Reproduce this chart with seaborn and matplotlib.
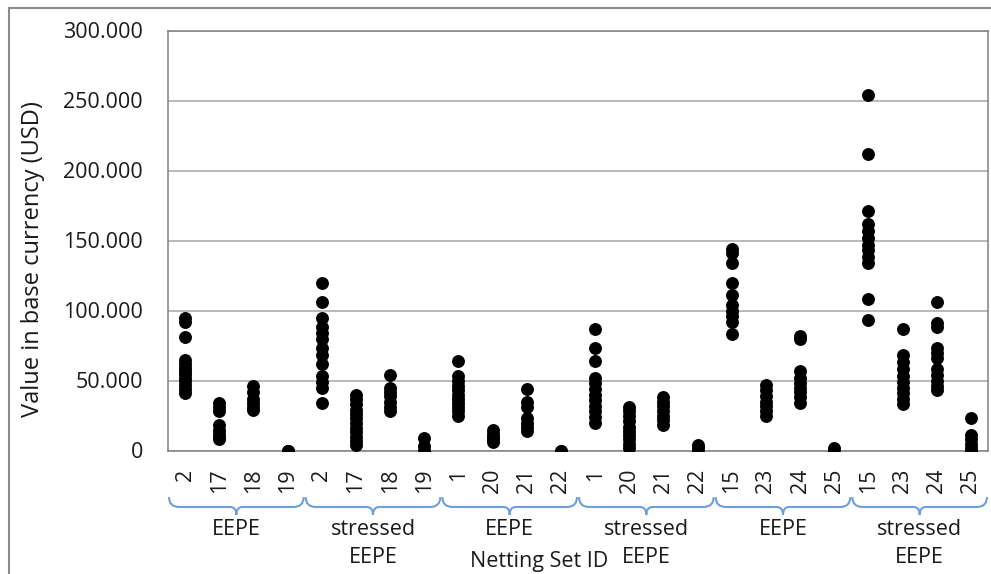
import numpy as np
import pandas as pd
import matplotlib.pyplot as plt
import matplotlib.transforms as mtransforms
import seaborn as sns
from matplotlib.path import Path
from matplotlib.patches import PathPatch, Rectangle
from matplotlib.ticker import FuncFormatter

# group captions under the brackets and netting set ids per group
group_names = ["EEPE", "stressed\nEEPE", "EEPE", "stressed\nEEPE", "EEPE", "stressed\nEEPE"]
group_ids = [
    ["2", "17", "18", "19"],
    ["2", "17", "18", "19"],
    ["1", "20", "21", "22"],
    ["1", "20", "21", "22"],
    ["15", "23", "24", "25"],
    ["15", "23", "24", "25"],
]

# values (USD) per netting set
eepe_a = [
    [95000, 92000, 81000, 65000, 62000, 59000, 57000, 55000, 52000, 50000, 47000, 44000, 41000],
    [34000, 31000, 28000, 18000, 15000, 12000, 10000, 8000],
    [46000, 42000, 37000, 34000, 31000, 29000],
    [0, 0, 0],
]
stressed_a = [
    [120000, 106000, 95000, 88000, 84000, 80000, 73000, 68000, 62000, 53000, 49000, 45000, 34000],
    [40000, 37000, 33000, 29000, 26000, 23000, 20000, 16000, 13000, 10000, 7000, 4000],
    [54000, 45000, 42000, 39000, 35000, 31000, 28000],
    [9000, 3000, 0, 0],
]
eepe_b = [
    [64000, 53000, 50000, 46000, 43000, 40000, 37000, 34000, 31000, 28000, 25000],
    [15000, 12000, 10000, 8000, 6000],
    [44000, 35000, 31000, 23000, 20000, 17000, 14000],
    [0, 0],
]
stressed_b = [
    [87000, 73000, 64000, 52000, 48000, 44000, 40000, 36000, 32000, 28000, 24000, 20000],
    [31000, 28000, 25000, 21000, 17000, 14000, 11000, 8000, 5000, 2000],
    [38000, 35000, 32000, 28000, 25000, 22000, 18000],
    [4000, 2000, 0],
]
eepe_c = [
    [144000, 141000, 134000, 120000, 111000, 104000, 100000, 96000, 92000, 83000],
    [47000, 43000, 39000, 35000, 32000, 28000, 25000],
    [82000, 80000, 57000, 52000, 48000, 45000, 42000, 38000, 34000],
    [2000, 0, 0],
]
stressed_c = [
    [254000, 212000, 171000, 162000, 157000, 152000, 147000, 143000, 138000, 134000, 108000, 93000],
    [87000, 68000, 63000, 58000, 53000, 49000, 45000, 41000, 37000, 33000],
    [106000, 91000, 88000, 73000, 70000, 66000, 58000, 54000, 50000, 46000, 43000],
    [23000, 11000, 8000, 5000, 2000, 0],
]
group_values = [eepe_a, stressed_a, eepe_b, stressed_b, eepe_c, stressed_c]

rows = []
order = []
tick_labels = []
for g, (ids, vals) in enumerate(zip(group_ids, group_values)):
    for sid, vs in zip(ids, vals):
        key = f"{g}-{sid}"
        order.append(key)
        tick_labels.append(sid)
        for v in vs:
            rows.append({"key": key, "value": v})
df = pd.DataFrame(rows)

sns.set_theme(style="whitegrid")
plt.rcParams["font.family"] = ["Open Sans", "DejaVu Sans"]
fs = 15.5

fig = plt.figure(figsize=(9.91, 5.74), dpi=100)
ax = fig.add_axes([168 / 991, 1 - 450.5 / 574, 820 / 991, 420 / 574])

sns.stripplot(data=df, x="key", y="value", order=order, jitter=False,
              color="black", size=9.3, linewidth=0, ax=ax, zorder=3)

ax.set_xlim(-0.5, len(order) - 0.5)
ax.set_ylim(0, 300000)
ax.set_yticks(np.arange(0, 300001, 50000))
ax.yaxis.set_major_formatter(FuncFormatter(lambda v, p: f"{v:,.0f}".replace(",", ".")))
ax.set_xticks(range(len(order)))
ax.set_xticklabels(tick_labels, rotation=90, va="top", ha="center")
ax.tick_params(axis="y", length=0, pad=18, labelsize=fs, colors="#1a1a1a")
ax.tick_params(axis="x", length=0, pad=13, labelsize=fs, colors="#1a1a1a")

ax.grid(axis="x", visible=False)
ax.grid(axis="y", color="#a6a6a6", linewidth=1.1)
for s in ax.spines.values():
    s.set_color("#808080")
    s.set_linewidth(1.1)

ax.set_ylabel("Value in base currency (USD)", fontsize=17, color="#1a1a1a", va="center")
ax.yaxis.set_label_coords((33 - 168) / 820, (450.5 - 259) / 420)
ax.set_xlabel("Netting Set ID", fontsize=fs, color="#1a1a1a", va="center")
ax.xaxis.set_label_coords((539 - 168) / 820, (450.5 - 561) / 420)

# curly brackets under each group of four netting sets
trans = mtransforms.blended_transform_factory(ax.transData, ax.transAxes)
yt, ym, yb = -0.111, -0.1345, -0.1536
for g, name in enumerate(group_names):
    x0 = g * 4 - 0.47
    x1 = g * 4 + 3.47
    xc = (x0 + x1) / 2
    c, ct = 0.3, 0.18
    verts = [(x0, yt), (x0, ym), (x0 + c, ym), (xc - ct, ym), (xc, ym), (xc, yb),
             (xc, ym), (xc + ct, ym), (x1 - c, ym), (x1, ym), (x1, yt)]
    codes = [Path.MOVETO, Path.CURVE3, Path.CURVE3, Path.LINETO, Path.CURVE3, Path.CURVE3,
             Path.CURVE3, Path.CURVE3, Path.LINETO, Path.CURVE3, Path.CURVE3]
    ax.add_patch(PathPatch(Path(verts, codes), transform=trans, fill=False,
                           edgecolor="#6f9fd8", linewidth=1.5, clip_on=False))
    ax.text(xc, (450.5 - 519) / 420, name, transform=trans, ha="center", va="top",
            fontsize=fs, linespacing=1.45, color="#1a1a1a")

# outer frame of the chart area
fig.add_artist(Rectangle((9 / 991, -0.1), 1.2, (574 - 8) / 574 + 0.1,
                         transform=fig.transFigure, fill=False,
                         edgecolor="#8c8c8c", linewidth=1.5, clip_on=False))

fig.savefig("out.png", dpi=100)
